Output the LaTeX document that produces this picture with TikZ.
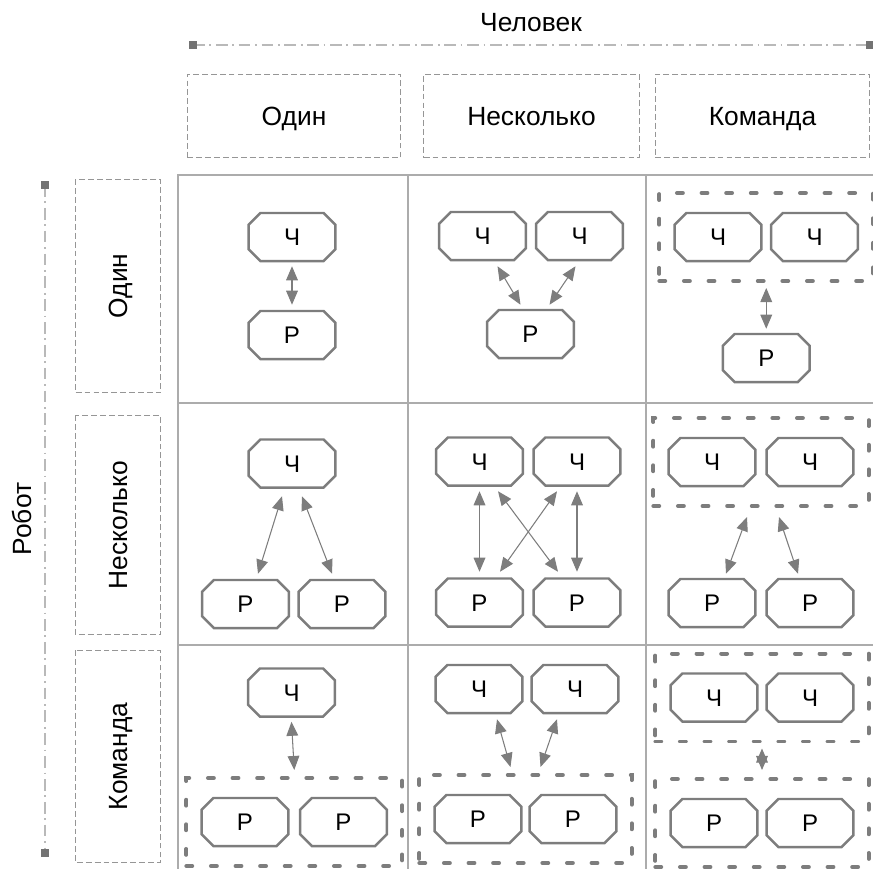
\documentclass[tikz,border=0pt]{standalone}
\usepackage{fontspec}
\setmainfont{Liberation Sans}
\usetikzlibrary{shapes.misc,arrows.meta,fit}

\definecolor{boxgray}{RGB}{125,125,125}
\definecolor{gridgray}{RGB}{172,172,172}
\definecolor{dashgray}{RGB}{150,150,150}
\definecolor{axisgray}{RGB}{185,185,185}
\definecolor{markgray}{RGB}{115,115,115}

\tikzset{
  agent/.style={chamfered rectangle, chamfered rectangle xsep=6.5pt,
    draw=boxgray, line width=2.1pt, fill=white, inner sep=0pt,
    minimum width=74pt, minimum height=41pt,
    text height=14.7pt, text depth=0pt,
    font=\fontsize{20.5}{24}\selectfont},
  group/.style={rectangle, draw=boxgray, line width=3.4pt, line cap=round,
    dash pattern=on 5pt off 16pt, inner xsep=12pt, inner ysep=16pt},
  link/.style={draw=boxgray, line width=0.9pt,
    {Triangle[length=12pt,width=10pt]}-{Triangle[length=12pt,width=10pt]}},
  hdrbox/.style={rectangle, draw=dashgray, line width=0.9pt,
    dash pattern=on 5pt off 2.6pt, inner sep=0pt,
    text height=16.1pt, text depth=0pt,
    font=\fontsize{22.5}{26}\selectfont},
  gridline/.style={draw=gridgray, line width=1.4pt},
  axisline/.style={draw=axisgray, line width=1.3pt,
    dash pattern=on 10pt off 4pt on 1.5pt off 4pt},
  endmark/.style={rectangle, fill=markgray, minimum size=7pt, inner sep=0pt},
  axislabel/.style={font=\fontsize{22.5}{26}\selectfont, inner sep=0pt,
    text height=16.1pt, text depth=0pt}
}

\begin{document}
\begin{tikzpicture}[x=0.03cm,y=-0.03cm]
\useasboundingbox (0,0) rectangle (873,868);
\clip (0,0) rectangle (873,868);

% axes with their titles
\coordinate (hl) at (193,45);
\coordinate (hr) at (870,45);
\draw[axisline] (hl) -- (hr);
\node[endmark] at (hl) {};
\node[endmark] at (hr) {};
\node[axislabel] (human) at (531,22) {Человек};

\coordinate (vt) at (45,185);
\coordinate (vb) at (45,853);
\draw[axisline] (vt) -- (vb);
\node[endmark] at (vt) {};
\node[endmark] at (vb) {};
\node[axislabel, rotate=90] (robot) at (22,519) {Робот};

% column headers
\node[hdrbox, minimum width=182pt, minimum height=71.4pt] (colA) at (294,116) {Один};
\node[hdrbox, minimum width=184pt, minimum height=71.4pt] (colB) at (531.5,116) {Несколько};
\node[hdrbox, minimum width=183pt, minimum height=71.4pt] (colC) at (762.5,116) {Команда};

% row headers
\node[hdrbox, rotate=90, minimum width=182pt, minimum height=73pt] (rowA) at (118,286) {Один};
\node[hdrbox, rotate=90, minimum width=187pt, minimum height=73pt] (rowB) at (118,525) {Несколько};
\node[hdrbox, rotate=90, minimum width=181pt, minimum height=73pt] (rowC) at (118,756.5) {Команда};

% table grid
\draw[gridline] (178,175) rectangle (900,900);
\draw[gridline] (408,175) -- (408,900);
\draw[gridline] (646,175) -- (646,900);
\draw[gridline] (178,403) -- (900,403);
\draw[gridline] (178,645) -- (900,645);

% one robot, one human
\node[agent] (h11) at (292,237) {Ч};
\node[agent] (r11) at (292,335) {Р};
\draw[link] ([shift={(0,4)}]h11.south) -- ([shift={(0,-5)}]r11.north);

% one robot, several humans
\node[agent] (h12a) at (482.5,236) {Ч};
\node[agent] (h12b) at (579.5,236) {Ч};
\node[agent] (r12) at (530.5,334) {Р};
\draw[link] ([shift={(15,5)}]h12a.south) -- ([shift={(-10,-4)}]r12.north);
\draw[link] ([shift={(-4,5)}]h12b.south) -- ([shift={(19,-4)}]r12.north);

% one robot, team of humans
\node[agent] (h13a) at (718,237) {Ч};
\node[agent] (h13b) at (814.5,237) {Ч};
\node[group, fit=(h13a)(h13b)] (g13) {};
\node[agent] (r13) at (766.25,358) {Р};
\draw[link] ([shift={(0,5)}]g13.south) -- ([shift={(0,-4)}]r13.north);

% several robots, one human
\node[agent] (h21) at (292,463.5) {Ч};
\node[agent] (r21a) at (245.5,604) {Р};
\node[agent] (r21b) at (342,604) {Р};
\draw[link] ([shift={(-10,7.5)}]h21.south) -- ([shift={(12.5,-5)}]r21a.north);
\draw[link] ([shift={(10,7.5)}]h21.south) -- ([shift={(-10,-5)}]r21b.north);

% several robots, several humans
\node[agent] (h22a) at (479.5,461.5) {Ч};
\node[agent] (h22b) at (577,461.5) {Ч};
\node[agent] (r22a) at (479.5,602.5) {Р};
\node[agent] (r22b) at (577,602.5) {Р};
\draw[link] ([shift={(0,4.5)}]h22a.south) -- ([shift={(0,-5.5)}]r22a.north);
\draw[link] ([shift={(0,4.5)}]h22b.south) -- ([shift={(0,-5.5)}]r22b.north);
\draw[link] ([shift={(18.5,4.5)}]h22a.south) -- ([shift={(-19,-5.5)}]r22b.north);
\draw[link] ([shift={(-20,4.5)}]h22b.south) -- ([shift={(20.5,-5.5)}]r22a.north);

% several robots, team of humans
\node[agent] (h23a) at (712,462) {Ч};
\node[agent] (h23b) at (810,462) {Ч};
\node[group, fit=(h23a)(h23b)] (g23) {};
\node[agent] (r23a) at (712,603) {Р};
\node[agent] (r23b) at (810,603) {Р};
\draw[link] ([shift={(-14,9)}]g23.south) -- ([shift={(14,-4)}]r23a.north);
\draw[link] ([shift={(18,9)}]g23.south) -- ([shift={(-12,-4)}]r23b.north);

% team of robots, one human
\node[agent] (h31) at (291.5,692.5) {Ч};
\node[agent] (r31a) at (245,822) {Р};
\node[agent] (r31b) at (343.5,822) {Р};
\node[group, fit=(r31a)(r31b)] (g31) {};
\draw[link] ([shift={(0,4)}]h31.south) -- ([shift={(0,-6)}]g31.north);

% team of robots, several humans
\node[agent] (h32a) at (479,689) {Ч};
\node[agent] (h32b) at (575,689) {Ч};
\node[agent] (r32a) at (478,819) {Р};
\node[agent] (r32b) at (573,819) {Р};
\node[group, fit=(r32a)(r32b)] (g32) {};
\draw[link] ([shift={(18,5)}]h32a.south) -- ([shift={(-15,-6)}]g32.north);
\draw[link] ([shift={(-18,5)}]h32b.south) -- ([shift={(15,-6)}]g32.north);

% team of robots, team of humans
\node[agent] (h33a) at (714,697.5) {Ч};
\node[agent] (h33b) at (810,697.5) {Ч};
\node[group, fit=(h33a)(h33b)] (g33a) {};
\node[agent] (r33a) at (714,823) {Р};
\node[agent] (r33b) at (810,823) {Р};
\node[group, fit=(r33a)(r33b)] (g33b) {};
\draw[link] ([shift={(0,5)}]g33a.south) -- ([shift={(0,-7)}]g33b.north);
\end{tikzpicture}
\end{document}
